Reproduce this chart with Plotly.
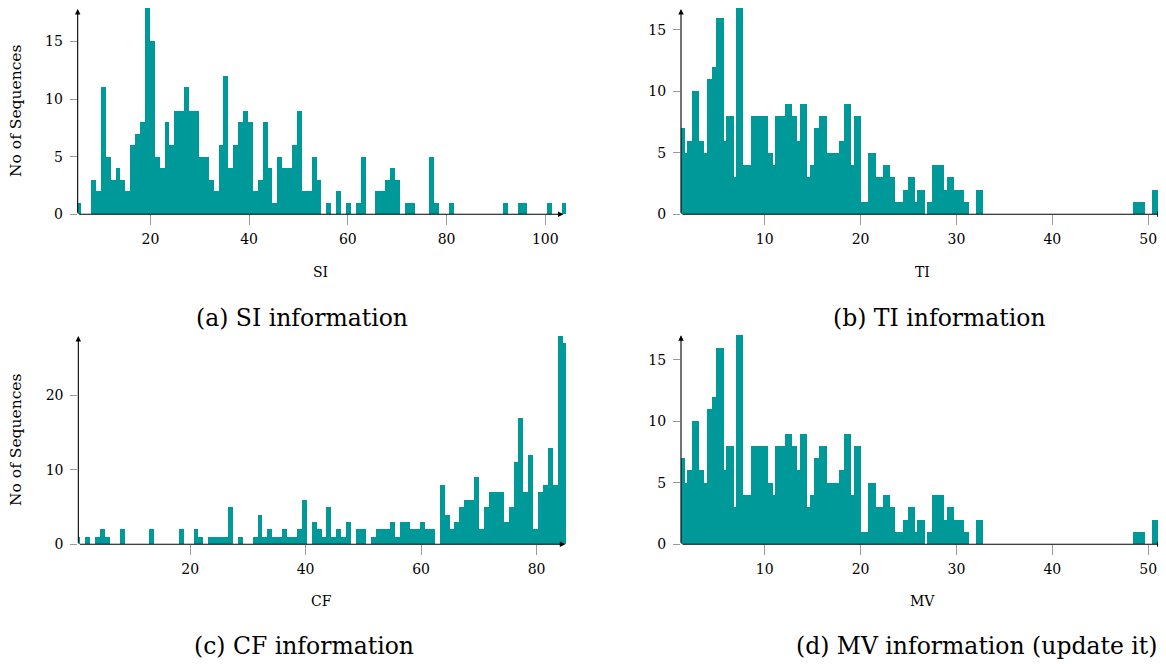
import numpy as np
import plotly.graph_objects as go

# ---------------- data (counts per histogram bin) ----------------
# (a) SI : 100 bins
si_bin_start = 4.93
si_bin_width = 0.9933
si_counts = [1, 0, 0, 3, 2, 11, 5, 3, 4, 3,
             2, 6, 7, 8, 18, 15, 5, 4, 8, 6,
             9, 9, 11, 9, 9, 5, 5, 3, 2, 6,
             12, 4, 6, 8, 9, 8, 2, 3, 8, 4,
             1, 5, 4, 4, 6, 9, 2, 2, 5, 3,
             0, 1, 0, 2, 0, 1, 0, 1, 5, 0,
             0, 2, 2, 3, 4, 3, 0, 1, 1, 0,
             0, 0, 5, 1, 0, 0, 1, 0, 0, 0,
             0, 0, 0, 0, 0, 0, 0, 1, 0, 0,
             1, 1, 0, 0, 0, 0, 1, 0, 0, 1]

# (b) TI : fine bins
ti_bin_start = 1.143
ti_bin_width = 0.2554
ti_counts = [7, 7, 5, 6, 6, 10, 10, 10, 6, 6,
             5, 11, 11, 12, 12, 16, 16, 16, 6, 8,
             8, 8, 3, 17, 17, 17, 4, 4, 4, 8,
             8, 8, 8, 8, 8, 8, 5, 5, 4, 8,
             8, 8, 8, 9, 9, 9, 8, 8, 6, 9,
             9, 9, 3, 4, 4, 7, 7, 8, 8, 8,
             5, 5, 5, 5, 5, 6, 6, 9, 9, 9,
             4, 8, 8, 8, 1, 1, 1, 5, 5, 5,
             3, 3, 3, 4, 4, 4, 3, 3, 1, 1,
             1, 2, 2, 3, 3, 3, 1, 2, 2, 2,
             0, 1, 1, 4, 4, 4, 4, 4, 2, 3,
             3, 3, 2, 2, 2, 2, 1, 1, 0, 0,
             0, 2, 2, 2, 0, 0, 0, 0, 0, 0,
             0, 0, 0, 0, 0, 0, 0, 0, 0, 0,
             0, 0, 0, 0, 0, 0, 0, 0, 0, 0,
             0, 0, 0, 0, 0, 0, 0, 0, 0, 0,
             0, 0, 0, 0, 0, 0, 0, 0, 0, 0,
             0, 0, 0, 0, 0, 0, 0, 0, 0, 0,
             0, 0, 0, 0, 0, 1, 1, 1, 1, 1,
             0, 0, 0, 2, 2, 2, 0, 2, 2]

# (c) CF : 100 bins
cf_bin_start = 0.185
cf_bin_width = 0.8527
cf_counts = [1, 0, 1, 0, 1, 2, 1, 0, 0, 2,
             0, 0, 0, 0, 0, 2, 0, 0, 0, 0,
             0, 2, 0, 0, 2, 1, 0, 1, 1, 1,
             1, 5, 0, 1, 0, 0, 1, 4, 1, 2,
             1, 1, 2, 1, 1, 2, 6, 0, 3, 2,
             1, 5, 1, 2, 1, 3, 0, 2, 2, 0,
             1, 2, 2, 2, 3, 1, 3, 3, 2, 2,
             3, 2, 2, 0, 8, 4, 2, 3, 5, 6,
             6, 9, 2, 5, 7, 7, 7, 3, 5, 11,
             17, 7, 12, 2, 7, 8, 13, 8, 28, 27]

# (d) MV : same distribution as shown in the reference
mv_bin_start = 1.143
mv_bin_width = 0.2554
mv_counts = list(ti_counts)

x_ticks_a = [20, 40, 60, 80, 100]
x_ticks_b = [10, 20, 30, 40, 50]
x_ticks_c = [20, 40, 60, 80]
y_ticks_a = [0, 5, 10, 15]
y_ticks_b = [0, 5, 10, 15]
y_ticks_c = [0, 10, 20]

# ---------------- layout config ----------------
# The page body has an 8px margin, so the figure is placed at (8, 8) of the window.
OFF = 8
W, H = 1166 - OFF, 664 - OFF
BAR = "#009999"
FONT = "DejaVu Serif"


def fx(p):
    return (p - OFF) / W


def fy(p):
    return 1 - (p - OFF) / H


panels = [
    dict(counts=si_counts, start=si_bin_start, width=si_bin_width,
         xr=[5.27, 104.2], y0px=214.3, ppu=11.53, xpx=(77.67, 566),
         xt=x_ticks_a, yt=y_ticks_a, xtip=103.7,
         title="SI", tpos=(320.7, 272), cap="(a) SI information", cpos=(302, 318),
         ylab=True, ylpos=(16, 111)),
    dict(counts=ti_counts, start=ti_bin_start, width=ti_bin_width,
         xr=[1.275, 51.85], y0px=214.3, ppu=12.29, xpx=(681, 1166),
         xt=x_ticks_b, yt=y_ticks_b, xtip=51.5,
         title="TI", tpos=(922, 272), cap="(b) TI information", cpos=(939, 318),
         ylab=False),
    dict(counts=cf_counts, start=cf_bin_start, width=cf_bin_width,
         xr=[0.637, 85.1], y0px=544.3, ppu=7.45, xpx=(78.33, 566),
         xt=x_ticks_c, yt=y_ticks_c, xtip=84.98, ytop=28.1,
         title="CF", tpos=(321, 601), cap="(c) CF information", cpos=(304, 646),
         ylab=True, ylpos=(16, 440)),
    dict(counts=mv_counts, start=mv_bin_start, width=mv_bin_width,
         xr=[1.275, 51.85], y0px=544.3, ppu=12.29, xpx=(681, 1166), ytop=17.1,
         xt=x_ticks_b, yt=y_ticks_b, xtip=51.5,
         title="MV", tpos=(922, 601), cap="(d) MV information (update it)", cpos=(976, 646),
         ylab=False),
]

fig = go.Figure()
layout = dict(width=W, height=H, margin=dict(l=0, r=0, t=0, b=0, autoexpand=False),
              paper_bgcolor="white", plot_bgcolor="white", showlegend=False,
              font=dict(family=FONT, color="black", size=14))
annotations = []

for i, p in enumerate(panels):
    n = i + 1
    xa = "x" if n == 1 else f"x{n}"
    ya = "y" if n == 1 else f"y{n}"
    counts = np.array(p["counts"], dtype=float)
    centers = p["start"] + p["width"] * (np.arange(len(counts)) + 0.5)
    fig.add_trace(go.Bar(x=centers, y=counts, width=p["width"],
                         marker=dict(color=BAR, line=dict(width=0)),
                         xaxis=xa, yaxis=ya, hoverinfo="skip"))
    # vertical extent: top of plot area limited by the visible page
    ytop = p.get("ytop", (p["y0px"] - OFF) / p["ppu"])
    top_px = max(OFF, p["y0px"] - ytop * p["ppu"])
    ytop = (p["y0px"] - top_px) / p["ppu"]
    xkey = "xaxis" if n == 1 else f"xaxis{n}"
    ykey = "yaxis" if n == 1 else f"yaxis{n}"
    layout[xkey] = dict(domain=[fx(p["xpx"][0]), min(1.0, fx(p["xpx"][1]))], range=p["xr"],
                        anchor=ya, showgrid=False, zeroline=False, showline=False,
                        automargin=False,
                        tickmode="array", tickvals=p["xt"], ticks="outside",
                        ticklen=10, tickwidth=1, tickcolor="#9a9a9a",
                        tickfont=dict(family=FONT, size=14, color="black"),
                        ticklabelstandoff=2, fixedrange=True)
    layout[ykey] = dict(domain=[fy(p["y0px"]), fy(top_px)], range=[0, ytop],
                        anchor=xa, showgrid=False, zeroline=False, showline=False,
                        automargin=False,
                        tickmode="array", tickvals=p["yt"], ticks="outside",
                        ticklen=7, tickwidth=1, tickcolor="#9a9a9a",
                        tickfont=dict(family=FONT, size=14, color="black"),
                        ticklabelstandoff=4, fixedrange=True)
    # axis lines with arrows
    x0 = p["xr"][0]
    annotations.append(dict(x=p["xtip"], y=0, ax=x0, ay=0, xref=xa, yref=ya,
                            axref=xa, ayref=ya, text="", showarrow=True,
                            arrowhead=2, arrowsize=1, arrowwidth=1.1,
                            arrowcolor="black", standoff=0, startstandoff=0))
    annotations.append(dict(x=x0, y=ytop * 0.995, ax=x0, ay=0, xref=xa, yref=ya,
                            axref=xa, ayref=ya, text="", showarrow=True,
                            arrowhead=2, arrowsize=1, arrowwidth=1.1,
                            arrowcolor="black", standoff=0, startstandoff=0))
    # axis title
    annotations.append(dict(x=fx(p["tpos"][0]), y=fy(p["tpos"][1]), xref="paper", yref="paper",
                            text=p["title"], showarrow=False,
                            font=dict(family=FONT, size=14, color="black"),
                            xanchor="center", yanchor="middle"))
    # caption
    annotations.append(dict(x=fx(p["cpos"][0]), y=fy(p["cpos"][1]), xref="paper", yref="paper",
                            text=p["cap"], showarrow=False,
                            font=dict(family=FONT, size=23.5, color="black"),
                            xanchor="center", yanchor="middle"))
    if p["ylab"]:
        annotations.append(dict(x=fx(p["ylpos"][0]), y=fy(p["ylpos"][1]), xref="paper", yref="paper",
                                text="No of Sequences", showarrow=False, textangle=-90,
                                font=dict(family=FONT, size=15.5, color="black"),
                                xanchor="center", yanchor="middle"))

layout["annotations"] = annotations
layout["bargap"] = 0
fig.update_layout(**layout)
fig.write_html("out.html")
